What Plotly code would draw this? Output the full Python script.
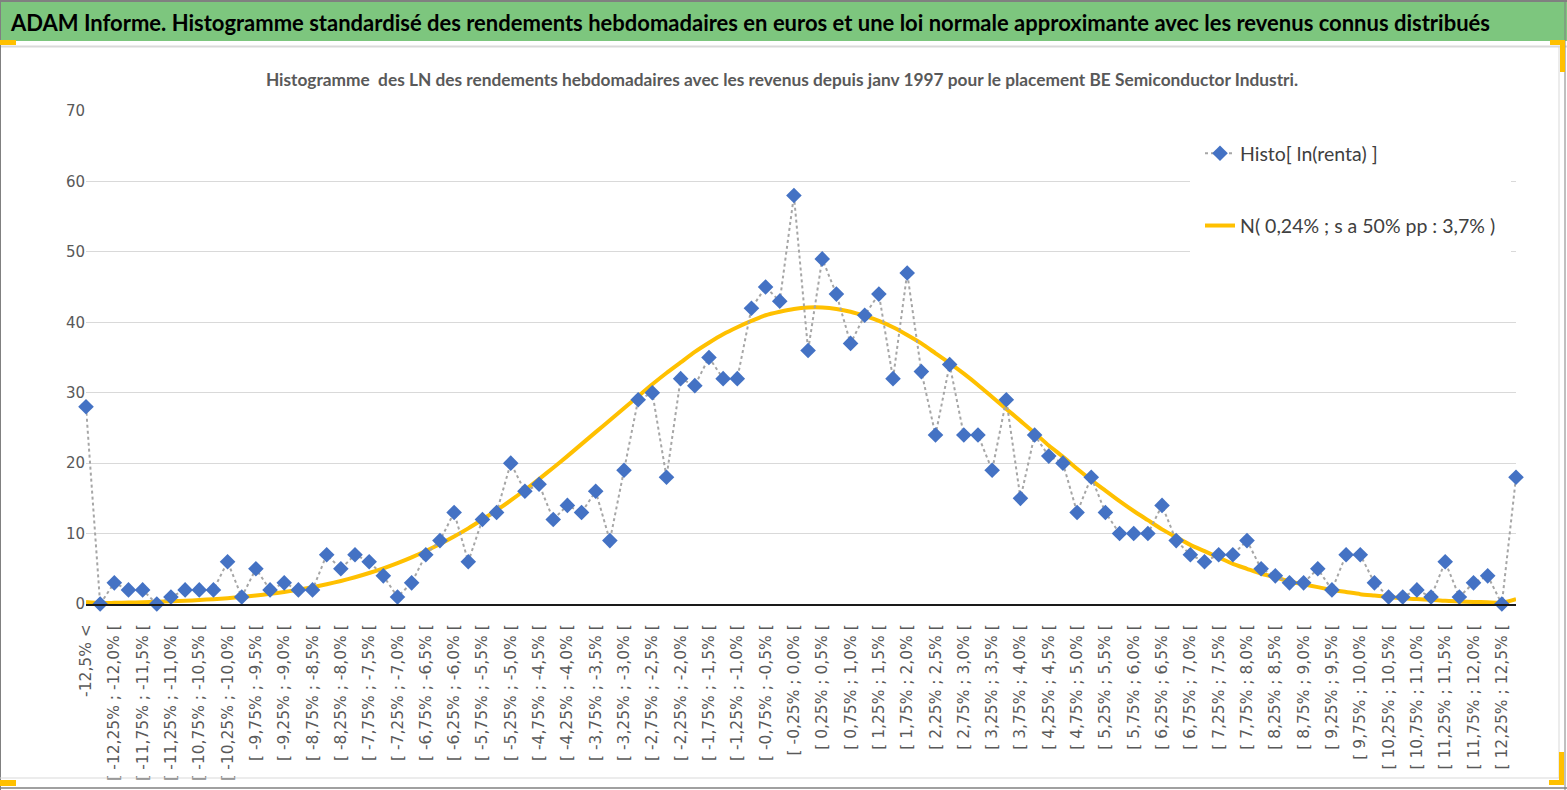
import plotly.graph_objects as go

# bin edges of the weekly log-returns, in %
edges = [-12.5 + 0.25 * i for i in range(101)]

# counts per bin (first = below -12,5%, last = above 12,5%)
histo = [28, 0, 3, 2, 2, 0, 1, 2, 2, 2,
         6, 1, 5, 2, 3, 2, 2, 7, 5, 7,
         6, 4, 1, 3, 7, 9, 13, 6, 12, 13,
         20, 16, 17, 12, 14, 13, 16, 9, 19, 29,
         30, 18, 32, 31, 35, 32, 32, 42, 45, 43,
         58, 36, 49, 44, 37, 41, 44, 32, 47, 33,
         24, 34, 24, 24, 19, 29, 15, 24, 21, 20,
         13, 18, 13, 10, 10, 10, 14, 9, 7, 6,
         7, 7, 9, 5, 4, 3, 3, 5, 2, 7,
         7, 3, 1, 1, 2, 1, 6, 1, 3, 4,
         0, 18]

# approximating normal curve
normal = [0.3, 0.13, 0.16, 0.2, 0.25, 0.31, 0.38, 0.46, 0.57, 0.69,
          0.83, 1.0, 1.2, 1.44, 1.71, 2.03, 2.39, 2.8, 3.27, 3.8,
          4.4, 5.07, 5.81, 6.63, 7.53, 8.52, 9.59, 10.74, 11.99, 13.31,
          14.71, 16.19, 17.74, 19.34, 21.0, 22.7, 24.4, 26.1, 27.8, 29.5,
          31.2, 32.8, 34.3, 35.8, 37.1, 38.3, 39.3, 40.2, 41.0, 41.5,
          41.9, 42.1, 42.1, 41.9, 41.5, 40.9, 40.2, 39.3, 38.2, 37.0,
          35.6, 34.2, 32.7, 31.1, 29.4, 27.7, 26.0, 24.3, 22.5, 20.9,
          19.2, 17.6, 16.1, 14.6, 13.2, 11.9, 10.6, 9.5, 8.4, 7.5,
          6.6, 5.7, 5.0, 4.3, 3.8, 3.2, 2.8, 2.4, 2.0, 1.7,
          1.4, 1.2, 1.0, 0.8, 0.7, 0.6, 0.45, 0.37, 0.3, 0.24,
          0.19, 0.7]


def fmt(v):
    v = round(v, 2)
    if v == 0:
        v = 0.0
    s = f"{v:.2f}" if round(v * 4) % 2 else f"{v:.1f}"
    return s.replace(".", ",") + "%"


categories = ["-12,5% <"]
categories += [f"[ {fmt(a)} ; {fmt(b)} [" for a, b in zip(edges[:-1], edges[1:])]
categories += ["12,5% >"]

W, H = 1567, 790
L, R, T, B = 86, 1516, 111, 604


def px(x):
    return (x - L) / (R - L)


def py(y):
    return (B - y) / (B - T)


HEAD = "Lato, Open Sans, sans-serif"
GRAY = "#595959"

fig = go.Figure()

fig.add_trace(go.Scatter(
    x=categories, y=normal, mode="lines",
    name="N( 0,24% ; s a 50% pp : 3,7% )",
    line=dict(color="#ffc000", width=4, shape="spline", smoothing=0.6),
    cliponaxis=False, legendgroup="n", legendrank=2,
))
fig.add_trace(go.Scatter(
    x=categories, y=histo, mode="lines+markers",
    name="Histo[ ln(renta) ]",
    line=dict(color="#a6a6a6", width=2, dash="dot"),
    marker=dict(symbol="diamond", size=12, color="#4472c4"),
    cliponaxis=False, legendgroup="h", legendrank=1,
))

shapes = [
    # green banner
    dict(type="rect", xref="paper", yref="paper", x0=px(0), x1=px(W), y0=py(41), y1=py(2),
         fillcolor="#7dc67e", line=dict(width=0), layer="below"),
    dict(type="line", xref="paper", yref="paper", x0=px(0), x1=px(W), y0=py(1), y1=py(1),
         line=dict(color="#808080", width=2)),
    dict(type="line", xref="paper", yref="paper", x0=px(0), x1=px(W), y0=py(46.5), y1=py(46.5),
         line=dict(color="#d9d9d9", width=2)),
    dict(type="line", xref="paper", yref="paper", x0=px(0.5), x1=px(0.5), y0=py(0), y1=py(H),
         line=dict(color="#808080", width=1)),
    dict(type="line", xref="paper", yref="paper", x0=px(1559), x1=px(1559), y0=py(47), y1=py(778),
         line=dict(color="#d9d9d9", width=1)),
    dict(type="line", xref="paper", yref="paper", x0=px(1565), x1=px(1565), y0=py(0), y1=py(H),
         line=dict(color="#808080", width=1)),
    dict(type="line", xref="paper", yref="paper", x0=px(0), x1=px(1559), y0=py(778), y1=py(778),
         line=dict(color="#d9d9d9", width=1)),
    dict(type="line", xref="paper", yref="paper", x0=px(0), x1=px(W), y0=py(788), y1=py(788),
         line=dict(color="#808080", width=1.5)),
    # yellow selection handles
    dict(type="rect", xref="paper", yref="paper", x0=px(0), x1=px(16), y0=py(45), y1=py(40),
         fillcolor="#ffc000", line=dict(width=0)),
    dict(type="rect", xref="paper", yref="paper", x0=px(1550), x1=px(1565), y0=py(45), y1=py(40),
         fillcolor="#ffc000", line=dict(width=0)),
    dict(type="rect", xref="paper", yref="paper", x0=px(1560), x1=px(1565), y0=py(72), y1=py(40),
         fillcolor="#ffc000", line=dict(width=0)),
    dict(type="rect", xref="paper", yref="paper", x0=px(0), x1=px(16), y0=py(786), y1=py(780),
         fillcolor="#ffc000", line=dict(width=0)),
    dict(type="rect", xref="paper", yref="paper", x0=px(1549), x1=px(1564), y0=py(785), y1=py(780),
         fillcolor="#ffc000", line=dict(width=0)),
    dict(type="rect", xref="paper", yref="paper", x0=px(1559), x1=px(1564), y0=py(785), y1=py(752),
         fillcolor="#ffc000", line=dict(width=0)),
]

fig.update_layout(
    width=W, height=H,
    margin=dict(l=L, r=W - R, t=T, b=H - B),
    paper_bgcolor="white", plot_bgcolor="white",
    title=dict(
        text="Histogramme  des LN des rendements hebdomadaires avec les revenus depuis janv 1997 "
             "pour le placement BE Semiconductor Industri.",
        x=782 / W, xanchor="center", y=1 - 80 / H, yanchor="middle",
        font=dict(family=HEAD, size=17.3, color=GRAY, weight="bold"),
    ),
    annotations=[dict(
        text="ADAM Informe. Histogramme standardisé des rendements hebdomadaires en euros "
             "et une loi normale approximante avec les revenus connus distribués",
        xref="paper", yref="paper", x=px(8), y=py(22), xanchor="left", yanchor="middle",
        showarrow=False, font=dict(family=HEAD, size=22, color="black", weight="bold"),
    )],
    shapes=shapes,
    showlegend=True,
    legend=dict(
        x=px(1190), y=py(124), xanchor="left", yanchor="top",
        bgcolor="white", bordercolor="white", borderwidth=10,
        traceorder="grouped", tracegroupgap=44,
        font=dict(family=HEAD, size=19.5, color="#404040"),
    ),
    xaxis=dict(
        type="category", categoryorder="array", categoryarray=categories,
        range=[0, len(categories) - 1], automargin=False,
        tickmode="array", tickvals=categories[::2], ticktext=categories[::2],
        tickangle=-90, ticks="outside", ticklen=12, tickcolor="rgba(0,0,0,0)",
        tickfont=dict(family="DejaVu Sans", size=15.5, color=GRAY),
        showgrid=False, showline=True, linecolor="#1a1a1a", linewidth=2,
        zeroline=False,
    ),
    xaxis2=dict(
        overlaying="x", anchor="y", side="bottom", automargin=False,
        range=[0, len(categories) - 1],
        tickmode="array", tickvals=list(range(0, len(categories), 4)),
        showticklabels=False, ticks="outside", ticklen=6, tickwidth=2, tickcolor="#1a1a1a",
        showgrid=True, gridcolor="#d9d9d9", gridwidth=1, zeroline=False, showline=False,
    ),
    yaxis=dict(
        range=[0, 70], dtick=10, showgrid=True, gridcolor="#d9d9d9", gridwidth=1,
        zeroline=False, showline=False, ticks="", automargin=False,
        tickfont=dict(family="DejaVu Sans", size=15, color=GRAY),
    ),
)

fig.write_html(
    "out.html",
    config={"displayModeBar": False},
    post_script="document.body.style.margin='0';document.body.style.overflow='hidden';",
)
